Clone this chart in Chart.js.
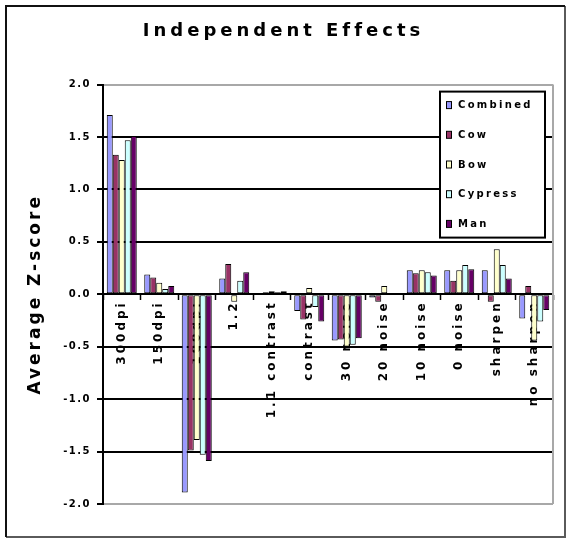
<!DOCTYPE html>
<html>
<head>
<meta charset="utf-8">
<title>Independent Effects</title>
<script src="https://cdn.jsdelivr.net/npm/chart.js@4/dist/chart.umd.min.js"></script>
<style>
  html, body { margin: 0; padding: 0; background: #fff; }
  #wrap { width: 572px; height: 540px; }
</style>
</head>
<body>
<div id="wrap"><canvas id="chart" width="572" height="540"></canvas></div>
<script>
// Conditions tested, one group of bars each
const categories = ['300dpi', '150dpi', '100dpi', '1.2', '1.1 contrast', 'contrast',
                    '30 noise', '20 noise', '10 noise', '0 noise', 'sharpen', 'no sharpen'];

// Average Z-score per condition, one array per series
const seriesNames = ['Combined', 'Cow', 'Bow', 'Cypress', 'Man'];
const combined = [1.71, 0.19, -1.89, 0.15, 0.00, -0.16, -0.44, -0.03, 0.23, 0.23, 0.23, -0.23];
const cow      = [1.33, 0.16, -1.49, 0.29, 0.02, -0.24, -0.43, -0.07, 0.20, 0.13, -0.07, 0.08];
const bow      = [1.28, 0.11, -1.39, -0.07, 0.03, 0.06, -0.50, 0.08, 0.23, 0.23, 0.43, -0.44];
const cypress  = [1.47, 0.05, -1.53, 0.13, 0.02, -0.12, -0.48, 0.00, 0.21, 0.28, 0.28, -0.26];
const man      = [1.51, 0.08, -1.59, 0.21, 0.03, -0.26, -0.42, 0.00, 0.18, 0.24, 0.15, -0.15];
const seriesValues = [combined, cow, bow, cypress, man];
const seriesColors = ['#9999FF', '#993366', '#FFFFCC', '#CCFFFF', '#660066'];

// Value axis range and step
const yMin = -2.0;
const yMax = 2.0;
const yStep = 0.5;

const FONT = 'DejaVu Sans';

// Run a drawing method with extra spacing between letters
function withSpacing(obj, method, px) {
  if (!obj || obj['_sp_' + method]) return;
  const orig = obj[method];
  obj['_sp_' + method] = true;
  obj[method] = function (...args) {
    const ctx = (this.chart && this.chart.ctx) || this.ctx;
    const prev = ctx.letterSpacing;
    ctx.letterSpacing = px + 'px';
    try { return orig.apply(this, args); } finally { ctx.letterSpacing = prev; }
  };
}

// Outer frame around the whole chart
const framePlugin = {
  id: 'frame',
  beforeDraw(chart) {
    const ctx = chart.ctx;
    ctx.save();
    ctx.fillStyle = '#fff';
    ctx.fillRect(0, 0, chart.width, chart.height);
    ctx.lineWidth = 2;
    ctx.strokeStyle = '#5a5a5a';
    ctx.beginPath();
    ctx.moveTo(565, 6); ctx.lineTo(565, 537); ctx.lineTo(6, 537);
    ctx.stroke();
    ctx.strokeStyle = '#111';
    ctx.beginPath();
    ctx.moveTo(6, 537); ctx.lineTo(6, 6); ctx.lineTo(565, 6);
    ctx.stroke();
    ctx.restore();
  }
};

// Wide lettering for the title, axis title and tick labels
const spacingPlugin = {
  id: 'spacing',
  beforeDraw(chart) {
    withSpacing(chart.titleBlock, 'draw', 4);
    withSpacing(chart.scales.y, 'drawTitle', 3);
    withSpacing(chart.scales.y, 'drawLabels', 1.5);
    withSpacing(chart.scales.x, 'drawLabels', 3);
  }
};

// Light edge on the right side of the plot area
const plotEdgePlugin = {
  id: 'plotEdge',
  beforeDatasetsDraw(chart) {
    const {ctx, chartArea} = chart;
    ctx.save();
    ctx.strokeStyle = '#a8a8a8';
    ctx.lineWidth = 2;
    ctx.beginPath();
    ctx.moveTo(chartArea.right, chartArea.top);
    ctx.lineTo(chartArea.right, chartArea.bottom);
    ctx.stroke();
    ctx.restore();
  }
};

// Boxed legend in the upper right of the plot area
const boxLegendPlugin = {
  id: 'boxLegend',
  afterDraw(chart) {
    const {ctx, chartArea} = chart;
    const w = 105, h = 146;
    const x0 = chartArea.right - 8 - w;
    const y0 = chartArea.top + 7;
    ctx.save();
    ctx.fillStyle = '#fff';
    ctx.fillRect(x0, y0, w, h);
    ctx.strokeStyle = '#000';
    ctx.lineWidth = 2;
    ctx.strokeRect(x0, y0, w, h);
    ctx.font = 'bold 10px "' + FONT + '"';
    ctx.letterSpacing = '2.3px';
    ctx.textBaseline = 'middle';
    ctx.textAlign = 'left';
    chart.data.datasets.forEach((ds, i) => {
      const cy = y0 + 13.5 + i * 29.7;
      ctx.fillStyle = ds.backgroundColor;
      ctx.fillRect(x0 + 6, cy - 3.5, 6, 7);
      ctx.lineWidth = 1;
      ctx.strokeStyle = '#000';
      ctx.strokeRect(x0 + 6.5, cy - 3.5, 5, 7);
      ctx.fillStyle = '#000';
      ctx.fillText(ds.label, x0 + 18, cy + 0.5);
    });
    ctx.restore();
  }
};

new Chart(document.getElementById('chart'), {
  type: 'bar',
  data: {
    labels: categories,
    datasets: seriesNames.map((name, i) => ({
      label: name,
      data: seriesValues[i],
      backgroundColor: seriesColors[i],
      borderColor: '#000',
      borderWidth: 1,
      borderSkipped: false,
      categoryPercentage: 0.8,
      barPercentage: 1.0
    }))
  },
  options: {
    responsive: false,
    animation: false,
    layout: { padding: { left: 14, top: 8, right: 19, bottom: 36 } },
    plugins: {
      legend: { display: false },
      tooltip: { enabled: false },
      title: {
        display: true,
        text: 'Independent Effects',
        color: '#000',
        font: { family: FONT, size: 18, weight: 'bold' },
        padding: { top: 13, bottom: 42 }
      }
    },
    scales: {
      x: {
        position: { y: 0 },
        z: 1,
        offset: true,
        grid: {
          offset: true,
          drawOnChartArea: false,
          drawTicks: true,
          tickLength: 5,
          tickColor: '#000',
          tickWidth: 1.5
        },
        border: { color: '#000', width: 2 },
        ticks: {
          minRotation: 90,
          maxRotation: 90,
          autoSkip: false,
          padding: 1,
          color: '#000',
          font: { family: FONT, size: 12, weight: 'bold' }
        }
      },
      y: {
        min: yMin,
        max: yMax,
        afterFit(scale) { scale.width = 89; },
        ticks: {
          stepSize: yStep,
          padding: 6,
          color: '#000',
          font: { family: FONT, size: 10, weight: 'bold' },
          callback: (v) => Number(v).toFixed(1)
        },
        grid: {
          color: (c) => (c.tick && Math.abs(c.tick.value) === yMax) ? '#a8a8a8' : '#000',
          lineWidth: 2,
          tickLength: 6,
          tickColor: '#000',
          tickWidth: 2
        },
        border: { color: '#000', width: 2 },
        title: {
          display: true,
          text: 'Average Z-score',
          color: '#000',
          font: { family: FONT, size: 17, weight: 'bold' },
          padding: { top: 11, bottom: 0 }
        }
      }
    }
  },
  plugins: [framePlugin, spacingPlugin, plotEdgePlugin, boxLegendPlugin]
});
</script>
</body>
</html>
